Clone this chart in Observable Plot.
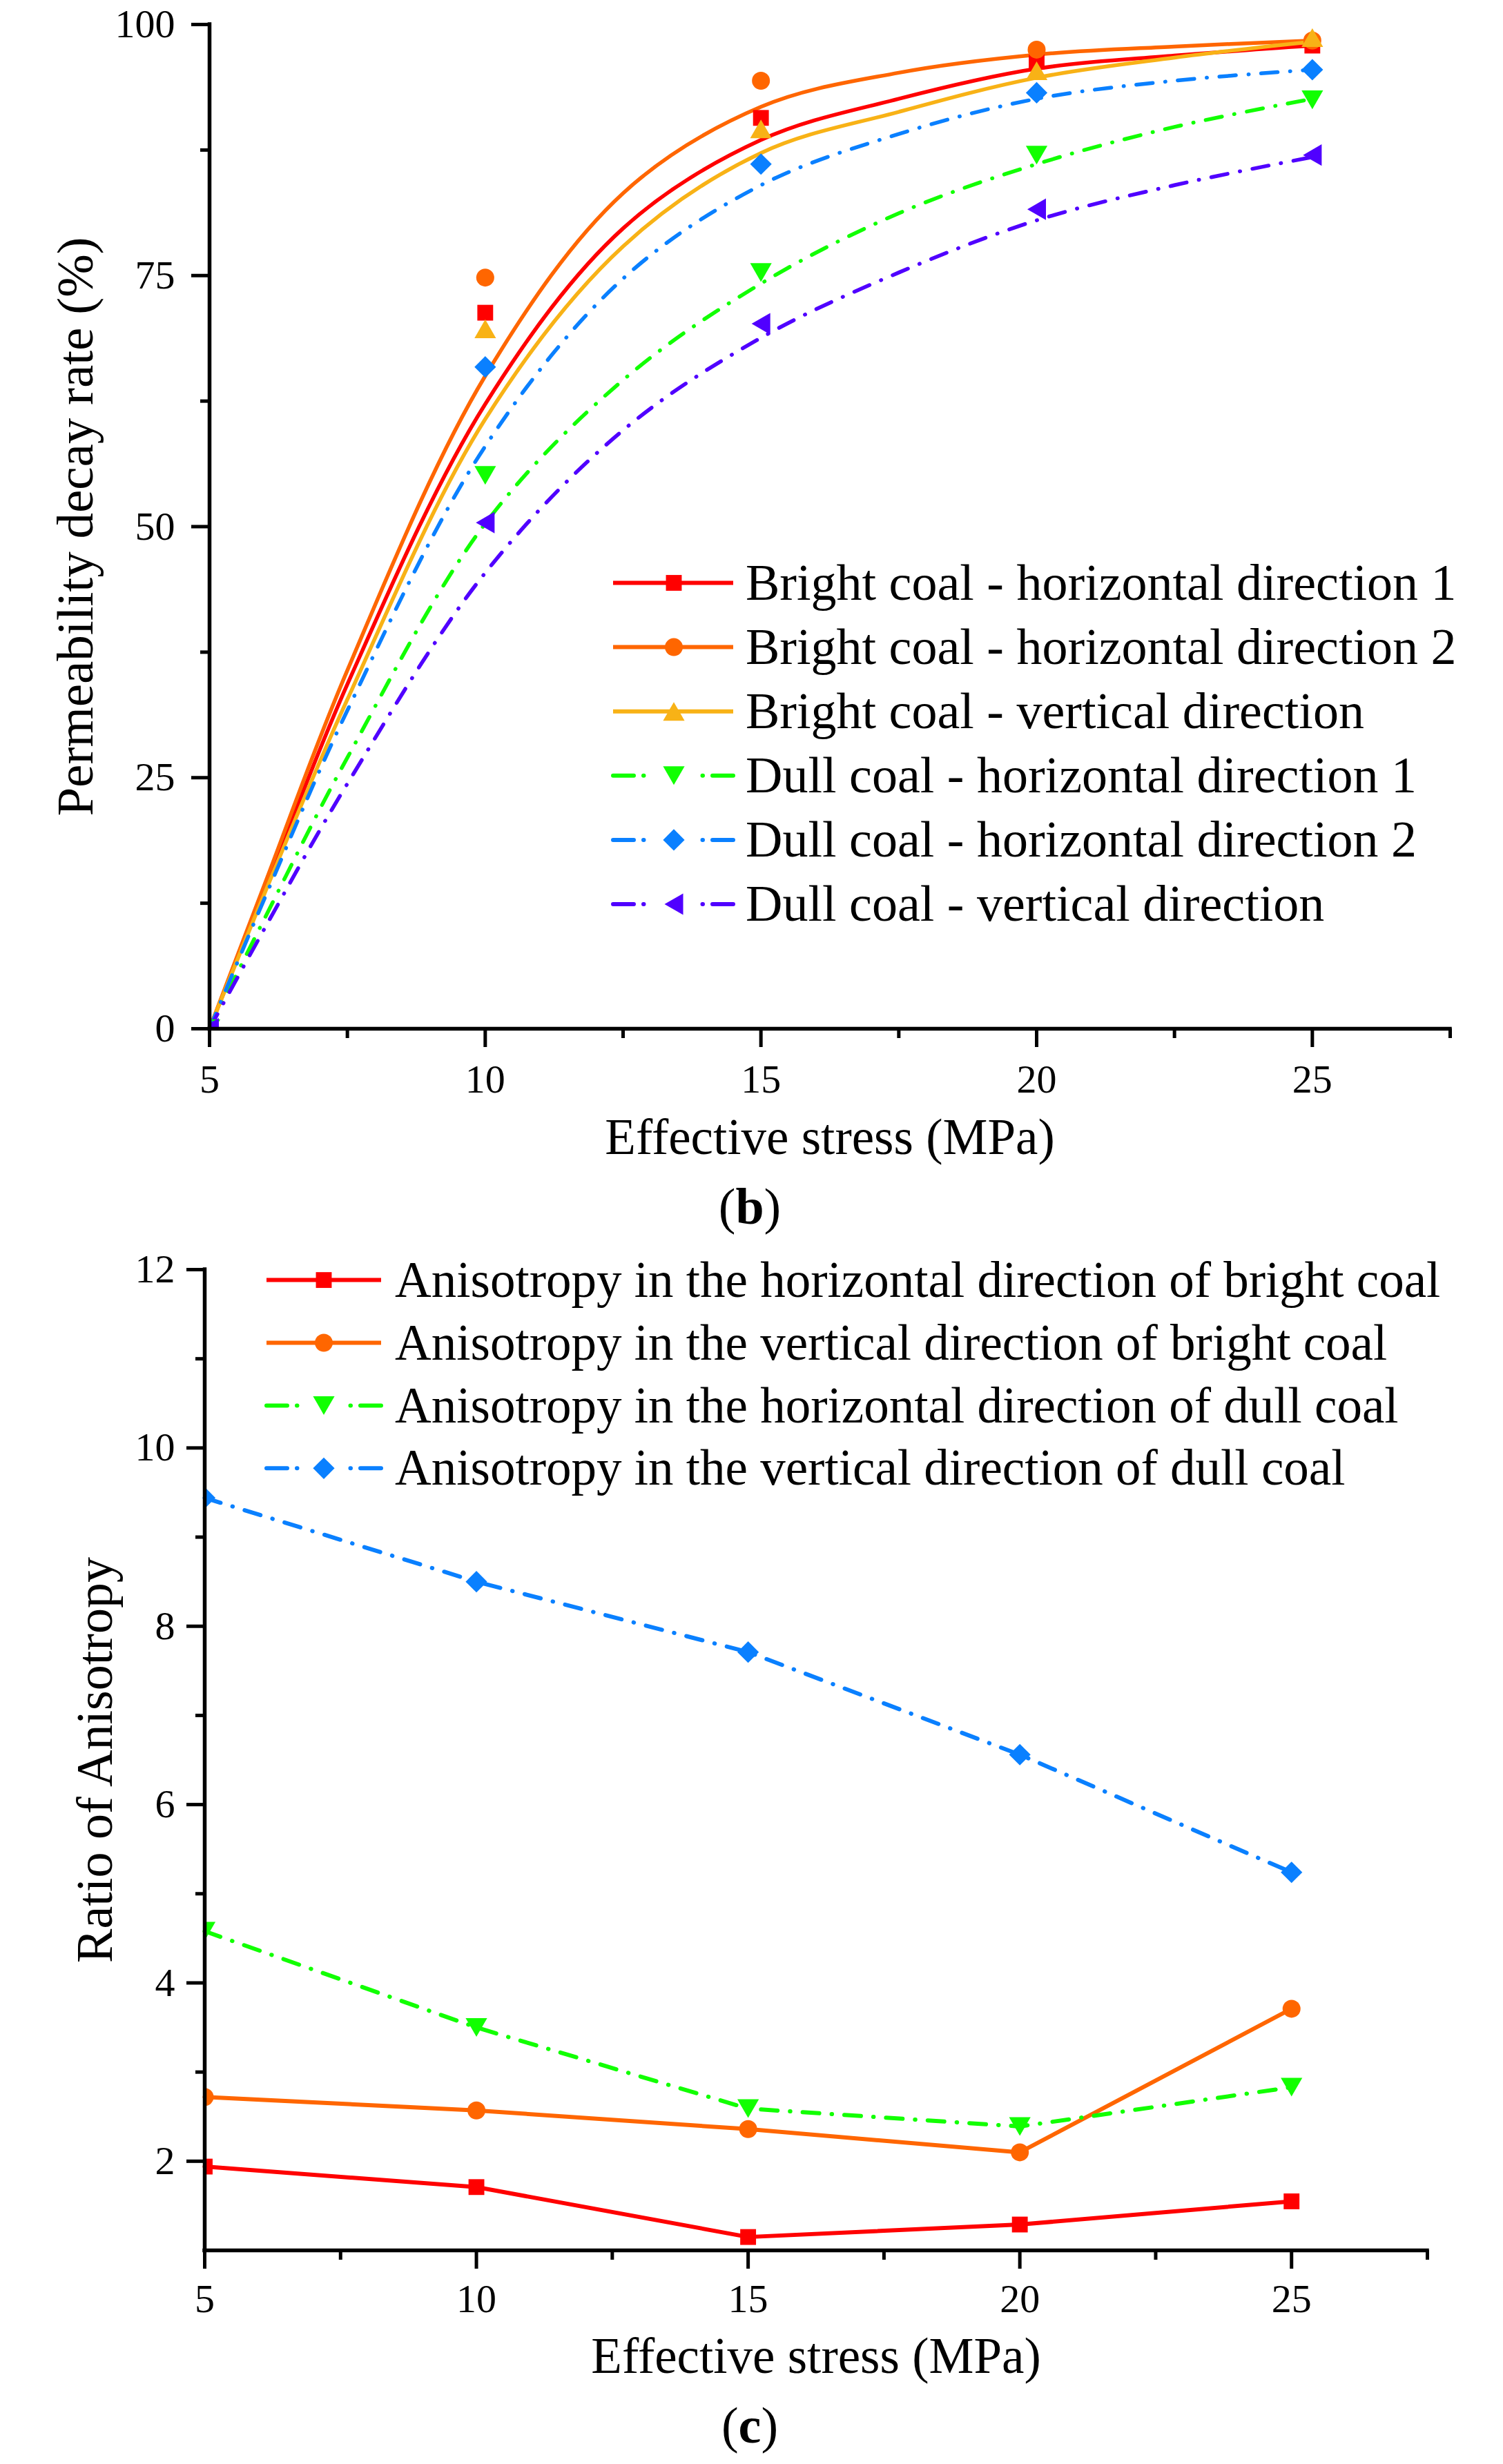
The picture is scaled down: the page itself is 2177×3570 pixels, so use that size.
<!DOCTYPE html>
<html>
<head>
<meta charset="utf-8">
<script src="https://cdn.jsdelivr.net/npm/d3@7"></script>
<script src="https://cdn.jsdelivr.net/npm/@observablehq/plot@0.6"></script>
<style>
html, body { margin: 0; padding: 0; background: #fff; }
#root { position: relative; width: 2177px; height: 3570px; overflow: hidden; font-family: "Liberation Serif", "Times New Roman", serif; background: #fff; }
.fig { position: absolute; left: 0; }
.cap { position: absolute; left: 0; width: 2172px; text-align: center; font-size: 74px; line-height: 74px; color: #000; font-family: "Liberation Serif", "Times New Roman", serif; }
</style>
</head>
<body>
<div id="root"></div>
<script>
// ---------------- DATA ----------------
// (b) Permeability decay rate — measured points
const stress = [5, 10, 15, 20, 25];
const brightH1 = [0, 71.3, 90.7, 96.3, 97.9];
const brightH2 = [0, 74.8, 94.4, 97.5, 98.4];
const brightV  = [0, 69.7, 89.6, 95.4, 98.7];
const dullH1   = [0, 55.1, 75.3, 87.0, 92.5];
const dullH2   = [0, 65.9, 86.1, 93.2, 95.5];
const dullV    = [0, 50.4, 70.2, 81.6, 87.0];

// (b) fitted curves at these stresses
const fitStress   = [5, 6, 7.5, 10, 12.5, 15, 17.5, 20, 22.5, 25];
const brightH1Fit = [0, 13.8, 34.3, 62.2, 79.7, 88.5, 92.6, 95.6, 96.9, 97.9];
const brightH2Fit = [0, 14.4, 35.7, 65.0, 83.2, 91.8, 95.2, 97.0, 97.8, 98.4];
const brightVFit  = [0, 13.5, 32.8, 60.7, 77.9, 87.2, 91.3, 94.7, 96.7, 98.3];
const dullH1Fit   = [0, 11.0, 27.0, 50.3, 64.6, 74.2, 81.2, 86.1, 89.8, 92.6];
const dullH2Fit   = [0, 13.0, 31.7, 58.0, 74.7, 84.0, 89.1, 92.6, 94.4, 95.5];
const dullVFit    = [0, 10.0, 24.4, 45.4, 59.6, 68.8, 75.3, 80.5, 84.0, 86.8];

const decayNames = [
  "Bright coal - horizontal direction 1",
  "Bright coal - horizontal direction 2",
  "Bright coal - vertical direction",
  "Dull coal - horizontal direction 1",
  "Dull coal - horizontal direction 2",
  "Dull coal - vertical direction"
];

// (c) Ratio of anisotropy
const ratioStress  = [5, 10, 15, 20, 25];
const anisoBrightH = [1.94, 1.71, 1.15, 1.29, 1.55];
const anisoBrightV = [2.72, 2.57, 2.36, 2.10, 3.71];
const anisoDullH   = [4.58, 3.50, 2.59, 2.39, 2.83];
const anisoDullV   = [9.44, 8.50, 7.71, 6.56, 5.24];

const anisoNames = [
  "Anisotropy in the horizontal direction of bright coal",
  "Anisotropy in the vertical direction of bright coal",
  "Anisotropy in the horizontal direction of dull coal",
  "Anisotropy in the vertical direction of dull coal"
];

// tick values
const xMajor = [5, 10, 15, 20, 25];
const xMinor = [7.5, 12.5, 17.5, 22.5, 27.5];
const yMajorB = [0, 25, 50, 75, 100];
const yMinorB = [12.5, 37.5, 62.5, 87.5];
const yMajorC = [2, 4, 6, 8, 10, 12];
const yMinorC = [3, 5, 7, 9, 11];

// ---------------- STYLE ----------------
const RED = "#FF0000", ORANGE = "#FF6600", YELLOW = "#F8B216",
      GREEN = "#11FF00", BLUE = "#0A80FF", PURPLE = "#5000FF";
const FONT = "Liberation Serif";
const DASHDOT = "24,18,0.5,18";
const R = 13;

function polySymbol(pts) {
  return {
    draw(ctx, size) {
      const k = Math.sqrt(size / Math.PI) / 12.5;
      ctx.moveTo(pts[0][0] * k, pts[0][1] * k);
      for (let i = 1; i < pts.length; i++) ctx.lineTo(pts[i][0] * k, pts[i][1] * k);
      ctx.closePath();
    }
  };
}
const symCircle = { draw(ctx, size) { const r = Math.sqrt(size / Math.PI); ctx.moveTo(r, 0); ctx.arc(0, 0, r, 0, 2 * Math.PI); } };
const symSquare = polySymbol([[-11, -11], [11, -11], [11, 11], [-11, 11]]);
const symTriUp = polySymbol([[0, -13], [15, 13], [-15, 13]]);
const symTriDown = polySymbol([[-15, -13], [15, -13], [0, 13]]);
const symTriLeft = polySymbol([[-13, 0], [13, -15], [13, 15]]);
const symDiamond = polySymbol([[0, -15], [15, 0], [0, 15], [-15, 0]]);

const decaySeries = [
  { name: decayNames[0], color: RED,    pts: brightH1, fit: brightH1Fit, symbol: symSquare,  dash: false },
  { name: decayNames[1], color: ORANGE, pts: brightH2, fit: brightH2Fit, symbol: symCircle,  dash: false },
  { name: decayNames[2], color: YELLOW, pts: brightV,  fit: brightVFit,  symbol: symTriUp,   dash: false },
  { name: decayNames[3], color: GREEN,  pts: dullH1,   fit: dullH1Fit,   symbol: symTriDown, dash: true },
  { name: decayNames[4], color: BLUE,   pts: dullH2,   fit: dullH2Fit,   symbol: symDiamond, dash: true },
  { name: decayNames[5], color: PURPLE, pts: dullV,    fit: dullVFit,    symbol: symTriLeft, dash: true }
];
const anisoSeries = [
  { name: anisoNames[0], color: RED,    pts: anisoBrightH, symbol: symSquare,  dash: false },
  { name: anisoNames[1], color: ORANGE, pts: anisoBrightV, symbol: symCircle,  dash: false },
  { name: anisoNames[2], color: GREEN,  pts: anisoDullH,   symbol: symTriDown, dash: true },
  { name: anisoNames[3], color: BLUE,   pts: anisoDullV,   symbol: symDiamond, dash: true }
];

function lineStyle(s) {
  return s.dash
    ? { stroke: s.color, strokeWidth: 6, strokeDasharray: DASHDOT, strokeLinecap: "round" }
    : { stroke: s.color, strokeWidth: 6 };
}

const intFormat = (d) => String(d);

function axesMarks(yMajor, yMinor, yBase, tickPadX, tickPadY) {
  return [
    Plot.axisX(xMajor, { anchor: "bottom", tickSize: 27, tickPadding: tickPadX, fontSize: 58, strokeWidth: 5, tickFormat: intFormat, label: null }),
    Plot.axisX(xMinor, { anchor: "bottom", tickSize: 14, strokeWidth: 5, tickFormat: () => "", label: null }),
    Plot.axisY(yMajor, { anchor: "left", tickSize: 26, tickPadding: tickPadY, fontSize: 58, strokeWidth: 5, tickFormat: intFormat, label: null }),
    Plot.axisY(yMinor, { anchor: "left", tickSize: 13, strokeWidth: 5, tickFormat: () => "", label: null }),
    Plot.ruleX([5], { stroke: "black", strokeWidth: 5.5, strokeLinecap: "square" }),
    Plot.ruleY([yBase], { stroke: "black", strokeWidth: 5.5, strokeLinecap: "square" })
  ];
}

function addLegend(svg, items, L) {
  const g = d3.select(svg).append("g").attr("class", "legend");
  items.forEach((s, i) => {
    const y = L.y0 + i * L.dy;
    if (s.dash) {
      [[L.x0, L.xm], [L.x1, L.xm]].forEach(([a, b]) => {
        g.append("line").attr("x1", a).attr("x2", b).attr("y1", y).attr("y2", y)
          .attr("stroke", s.color).attr("stroke-width", 6).attr("stroke-linecap", "round")
          .attr("stroke-dasharray", "30,14,0.5,300");
      });
    } else {
      g.append("line").attr("x1", L.x0).attr("x2", L.x1).attr("y1", y).attr("y2", y)
        .attr("stroke", s.color).attr("stroke-width", 6);
    }
    const p = d3.path();
    s.symbol.draw(p, Math.PI * R * R);
    g.append("path").attr("d", p.toString()).attr("transform", `translate(${L.xm},${y})`).attr("fill", s.color);
    g.append("text").attr("x", L.xt).attr("y", y + 0.331 * L.fontSize)
      .attr("text-anchor", "start")
      .attr("font-size", L.fontSize).attr("font-family", FONT).attr("fill", "#000").text(s.name);
  });
}

const root = document.getElementById("root");

// ---------------- (b) ----------------
const marksB = [];
decaySeries.forEach((s) => {
  const fitRows = fitStress.map((x, i) => ({ x, y: s.fit[i] }));
  marksB.push(Plot.line(fitRows, { x: "x", y: "y", curve: "catmull-rom", ...lineStyle(s), strokeWidth: 5.5 }));
});
decaySeries.forEach((s) => {
  const rows = stress.map((x, i) => ({ x, y: s.pts[i] }));
  marksB.push(Plot.dot(rows, { x: "x", y: "y", symbol: s.symbol, r: R, fill: s.color, stroke: "none", clip: true }));
});
marksB.push(...axesMarks(yMajorB, yMinorB, 0, 24, 24));
marksB.push(Plot.text(["Effective stress (MPa)"], { text: (d) => d, frameAnchor: "bottom", lineAnchor: "middle", textAnchor: "middle", dy: 158, fontSize: 73, fontFamily: FONT, fill: "#000" }));
marksB.push(Plot.text(["Permeability decay rate (%)"], { text: (d) => d, frameAnchor: "left", textAnchor: "middle", lineAnchor: "middle", rotate: -90, dx: -194, fontSize: 75, fontFamily: FONT, fill: "#000" }));

const svgB = Plot.plot({
  width: 2177, height: 1700,
  marginLeft: 303, marginRight: 77, marginTop: 35, marginBottom: 210,
  x: { domain: [5, 27.5], axis: null },
  y: { domain: [0, 100], axis: null },
  style: { fontFamily: FONT, background: "white", color: "black", overflow: "visible" },
  marks: marksB
});
addLegend(svgB, decaySeries, { x0: 888, x1: 1062, xm: 976, xt: 1080, y0: 844.5, dy: 93.1, fontSize: 74 });
const divB = document.createElement("div");
divB.className = "fig"; divB.style.top = "0px";
divB.appendChild(svgB);
root.appendChild(divB);

// ---------------- (c) ----------------
const marksC = [];
anisoSeries.forEach((s) => {
  const rows = ratioStress.map((x, i) => ({ x, y: s.pts[i] }));
  marksC.push(Plot.line(rows, { x: "x", y: "y", ...lineStyle(s) }));
});
anisoSeries.forEach((s) => {
  const rows = ratioStress.map((x, i) => ({ x, y: s.pts[i] }));
  marksC.push(Plot.dot(rows, { x: "x", y: "y", symbol: s.symbol, r: R, fill: s.color, stroke: "none", clip: true }));
});
marksC.push(...axesMarks(yMajorC, yMinorC, 1, 21, 17));
marksC.push(Plot.text(["Effective stress (MPa)"], { text: (d) => d, frameAnchor: "bottom", lineAnchor: "middle", textAnchor: "middle", dy: 154, fontSize: 73, fontFamily: FONT, fill: "#000" }));
marksC.push(Plot.text(["Ratio of Anisotropy"], { text: (d) => d, frameAnchor: "left", textAnchor: "middle", lineAnchor: "middle", rotate: -90, dx: -158, fontSize: 74, fontFamily: FONT, fill: "#000" }));

const svgC = Plot.plot({
  width: 2177, height: 1660,
  marginLeft: 296, marginRight: 110, marginTop: 59, marginBottom: 180,
  x: { domain: [5, 27.5], axis: null },
  y: { domain: [1, 12], axis: null },
  style: { fontFamily: FONT, background: "white", color: "black", overflow: "visible" },
  marks: marksC
});
addLegend(svgC, anisoSeries, { x0: 386, x1: 552, xm: 469, xt: 572, y0: 74.6, dy: 90.9, fontSize: 73 });
const divC = document.createElement("div");
divC.className = "fig"; divC.style.top = "1780px";
divC.appendChild(svgC);
root.appendChild(divC);

// ---------------- captions ----------------
const capB = document.createElement("div");
capB.className = "cap"; capB.style.top = "1711px";
capB.innerHTML = '(<b>b</b>)';
root.appendChild(capB);
const capC = document.createElement("div");
capC.className = "cap"; capC.style.top = "3477px";
capC.innerHTML = '(<b>c</b>)';
root.appendChild(capC);
</script>
</body>
</html>
